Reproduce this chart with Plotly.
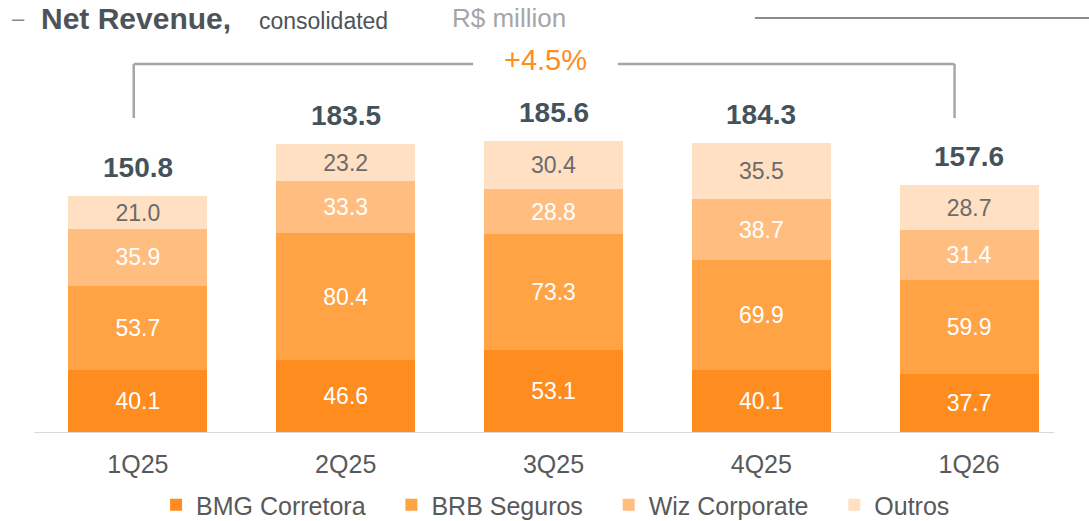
import plotly.graph_objects as go

quarters = ["1Q25", "2Q25", "3Q25", "4Q25", "1Q26"]
bmg_corretora = [40.1, 46.6, 53.1, 40.1, 37.7]
brb_seguros = [53.7, 80.4, 73.3, 69.9, 59.9]
wiz_corporate = [35.9, 33.3, 28.8, 38.7, 31.4]
outros = [21.0, 23.2, 30.4, 35.5, 28.7]
totals = [150.8, 183.5, 185.6, 184.3, 157.6]
growth_label = "+4.5%"

NB = "\u00a0\u00a0\u00a0"
series = [
    ("BMG Corretora", bmg_corretora, "#FF8C1E", "white", NB),
    ("BRB Seguros", brb_seguros, "#FFA345", "white", NB),
    ("Wiz Corporate", wiz_corporate, "#FFBE80", "white", NB),
    ("Outros", outros, "#FFE0C2", "#6b6b6b", ""),
]

FONT = "Liberation Sans, Arial, sans-serif"
fig = go.Figure()
for name, vals, color, tcolor, pad in series:
    fig.add_trace(go.Bar(
        x=quarters, y=vals, name=name + pad,
        marker=dict(color=color, line=dict(width=0)),
        width=0.668,
        text=[f"{v:.1f}" for v in vals],
        textposition="inside", insidetextanchor="middle",
        textfont=dict(family=FONT, size=23, color=tcolor),
        hoverinfo="skip",
    ))

annotations = []
for q, t in zip(quarters, totals):
    annotations.append(dict(
        x=q, y=t, xref="x", yref="y", text=f"<b>{t:.1f}</b>",
        showarrow=False, yanchor="bottom", yshift=11,
        font=dict(family=FONT, size=28, color="#44535B"),
    ))

annotations += [
    dict(x=-0.0226, y=0.9584, xref="paper", yref="paper", text="–", showarrow=False,
         xanchor="left", yanchor="middle", borderpad=0, font=dict(family=FONT, size=22, color="#8a8a8a")),
    dict(x=0.006, y=0.9584, xref="paper", yref="paper", text="<b>Net Revenue,</b>", showarrow=False,
         xanchor="left", yanchor="middle", borderpad=0, font=dict(family=FONT, size=30, color="#4D5358")),
    dict(x=0.216, y=0.9515, xref="paper", yref="paper", text="consolidated", showarrow=False,
         xanchor="left", yanchor="middle", borderpad=0, font=dict(family=FONT, size=23, color="#4D5358")),
    dict(x=0.4015, y=0.9584, xref="paper", yref="paper", text="R$ million", showarrow=False,
         xanchor="left", yanchor="middle", borderpad=0, font=dict(family=FONT, size=26, color="#A6A6A6")),
    dict(x=1.96, y=0.8614, xref="x", yref="paper", text=growth_label, showarrow=False,
         xanchor="center", yanchor="middle", font=dict(family=FONT, size=29, color="#FF8C1E")),
]

bracket = dict(color="#A6A6A6", width=2.5)
shapes = [
    dict(type="line", xref="x", yref="paper", x0=-0.02, x1=-0.02, y0=0.7275, y1=0.8522, line=bracket),
    dict(type="line", xref="x", yref="paper", x0=-0.02, x1=1.613, y0=0.8522, y1=0.8522, line=bracket),
    dict(type="line", xref="x", yref="paper", x0=2.31, x1=3.93, y0=0.8522, y1=0.8522, line=bracket),
    dict(type="line", xref="x", yref="paper", x0=3.93, x1=3.93, y0=0.7275, y1=0.8522, line=bracket),
    dict(type="line", xref="paper", yref="paper", x0=0.6938, x1=1.03, y0=0.9584, y1=0.9584,
         line=dict(color="#8C8C8C", width=2)),
    dict(type="line", xref="x", yref="y", x0=-0.5, x1=4.41, y0=0, y1=0,
         line=dict(color="#D9D9D9", width=2)),
]

fig.update_layout(
    barmode="stack",
    width=1089, height=521,
    margin=dict(l=33.5, r=15.5, t=0, b=88, pad=0, autoexpand=False),
    paper_bgcolor="white", plot_bgcolor="white",
    font=dict(family=FONT, color="#595959"),
    showlegend=True,
    legend=dict(orientation="h", x=0.502, xanchor="center", y=-0.1663, yanchor="middle",
                font=dict(family=FONT, size=25, color="#595959"), itemwidth=30,
                traceorder="normal", bgcolor="rgba(0,0,0,0)"),
    annotations=annotations,
    shapes=shapes,
)
fig.update_xaxes(range=[-0.5, 4.5], showgrid=False, showline=False, ticks="",
                 tickfont=dict(family=FONT, size=25, color="#595959"),
                 ticklabelstandoff=14, fixedrange=True)
fig.update_yaxes(range=[0, 275.4], visible=False, showgrid=False, zeroline=False, fixedrange=True)

fig.write_html("out.html", config={"displayModeBar": False},
               post_script="document.body.style.margin='0';")
